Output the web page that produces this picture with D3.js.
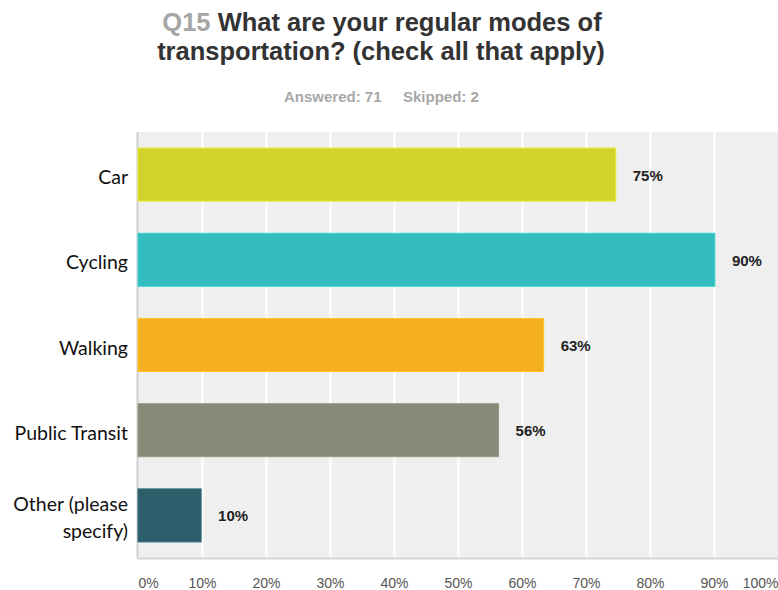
<!DOCTYPE html>
<html>
<head>
<meta charset="utf-8">
<script src="https://cdn.jsdelivr.net/npm/d3@7"></script>
<style>
  html, body { margin: 0; padding: 0; background: #ffffff; }
  svg { display: block; }
</style>
</head>
<body>
<svg id="chart" width="778" height="590"></svg>
<script>
// Survey responses: share of respondents per mode of transportation
const categories = ["Car", "Cycling", "Walking", "Public Transit", "Other (please specify)"];
const categoryLines = [["Car"], ["Cycling"], ["Walking"], ["Public Transit"], ["Other (please", "specify)"]];
const values = [0.7465, 0.9014, 0.6338, 0.5634, 0.0986];
const valueLabels = ["75%", "90%", "63%", "56%", "10%"];
const colors = ["#d0d42a", "#33bdbf", "#f5b01f", "#888a78", "#2d5e6b"];
const tickValues = [0, 0.1, 0.2, 0.3, 0.4, 0.5, 0.6, 0.7, 0.8, 0.9, 1.0];
const tickLabels = ["0%", "10%", "20%", "30%", "40%", "50%", "60%", "70%", "80%", "90%", "100%"];

const svg = d3.select("#chart");
const plot = { left: 138, right: 778, top: 132, bottom: 558 };
const sans = "'Liberation Sans', Arial, sans-serif";

const x = d3.scaleLinear().domain([0, 1]).range([plot.left, plot.right]);
const y = d3.scaleBand()
  .domain(categories)
  .range([plot.top, plot.bottom])
  .paddingInner(0.378)
  .paddingOuter(0.189);

// Two-line title
const title = svg.append("text")
  .attr("text-anchor", "middle")
  .style("font-family", sans)
  .style("font-weight", "bold")
  .style("font-size", "25.5px");
const line1 = title.append("tspan").attr("x", 382).attr("y", 31);
line1.append("tspan").attr("fill", "#a6a6a6").text("Q15 ");
line1.append("tspan").attr("fill", "#333333").text("What are your regular modes of");
title.append("tspan")
  .attr("x", 381)
  .attr("y", 59.5)
  .attr("fill", "#333333")
  .text("transportation? (check all that apply)");

// Answered / skipped counts
const sub = svg.append("text")
  .attr("y", 102)
  .attr("fill", "#a8a8a8")
  .style("font-family", sans)
  .style("font-weight", "bold")
  .style("font-size", "15px");
sub.append("tspan").attr("x", 284).text("Answered: 71");
sub.append("tspan").attr("x", 403).text("Skipped: 2");

// Plot background
svg.append("rect")
  .attr("x", plot.left)
  .attr("y", plot.top)
  .attr("width", plot.right - plot.left)
  .attr("height", plot.bottom - plot.top)
  .attr("fill", "#efefef");

// Vertical gridlines
svg.append("g")
  .selectAll("line")
  .data(tickValues.slice(1, -1))
  .join("line")
  .attr("x1", d => Math.round(x(d)) + 0.5)
  .attr("x2", d => Math.round(x(d)) + 0.5)
  .attr("y1", plot.top)
  .attr("y2", plot.bottom)
  .attr("stroke", "#ffffff")
  .attr("stroke-width", 2);

// Plot frame: left and bottom edges
svg.append("line")
  .attr("x1", plot.left - 0.5).attr("x2", plot.left - 0.5)
  .attr("y1", plot.top).attr("y2", plot.bottom)
  .attr("stroke", "#cfcfcf").attr("stroke-width", 2);
svg.append("line")
  .attr("x1", plot.left - 1).attr("x2", plot.right)
  .attr("y1", plot.bottom + 0.5).attr("y2", plot.bottom + 0.5)
  .attr("stroke", "#d4d4d4").attr("stroke-width", 2);

// Bars
svg.append("g")
  .selectAll("rect")
  .data(categories)
  .join("rect")
  .attr("x", x(0))
  .attr("y", d => y(d))
  .attr("width", (d, i) => x(values[i]) - x(0))
  .attr("height", y.bandwidth())
  .attr("fill", (d, i) => colors[i])
  .attr("stroke", (d, i) => d3.color(colors[i]).brighter(0.3))
  .attr("stroke-width", 1);

// Value labels
svg.append("g")
  .selectAll("text")
  .data(categories)
  .join("text")
  .attr("x", (d, i) => x(values[i]) + 17)
  .attr("y", d => y(d) + y.bandwidth() / 2 + 6)
  .attr("fill", "#222222")
  .style("font-family", sans)
  .style("font-weight", "bold")
  .style("font-size", "15px")
  .text((d, i) => valueLabels[i]);

// Category labels
const catG = svg.append("g");
categories.forEach((c, i) => {
  const lines = categoryLines[i];
  const lh = 27;
  const cy = y(c) + y.bandwidth() / 2;
  const t = catG.append("text")
    .attr("text-anchor", "end")
    .attr("fill", "#111111")
    .style("font-family", "Lato, 'Open Sans', sans-serif")
    .style("font-size", "19.5px");
  lines.forEach((ln, j) => {
    t.append("tspan")
      .attr("x", 128)
      .attr("y", cy + 9.5 + (j - (lines.length - 1) / 2) * lh)
      .text(ln);
  });
});

// X axis tick labels
const xAxis = d3.axisBottom(x)
  .tickValues(tickValues)
  .tickFormat((d, i) => tickLabels[i])
  .tickSize(0)
  .tickPadding(20);
const axisG = svg.append("g")
  .attr("transform", `translate(0,${plot.bottom})`)
  .call(xAxis);
axisG.select(".domain").remove();
axisG.selectAll("text")
  .attr("fill", "#555555")
  .style("font-family", sans)
  .style("font-size", "14px")
  .attr("text-anchor", (d, i) => i === 0 ? "start" : (i === tickValues.length - 1 ? "end" : "middle"));
</script>
</body>
</html>
